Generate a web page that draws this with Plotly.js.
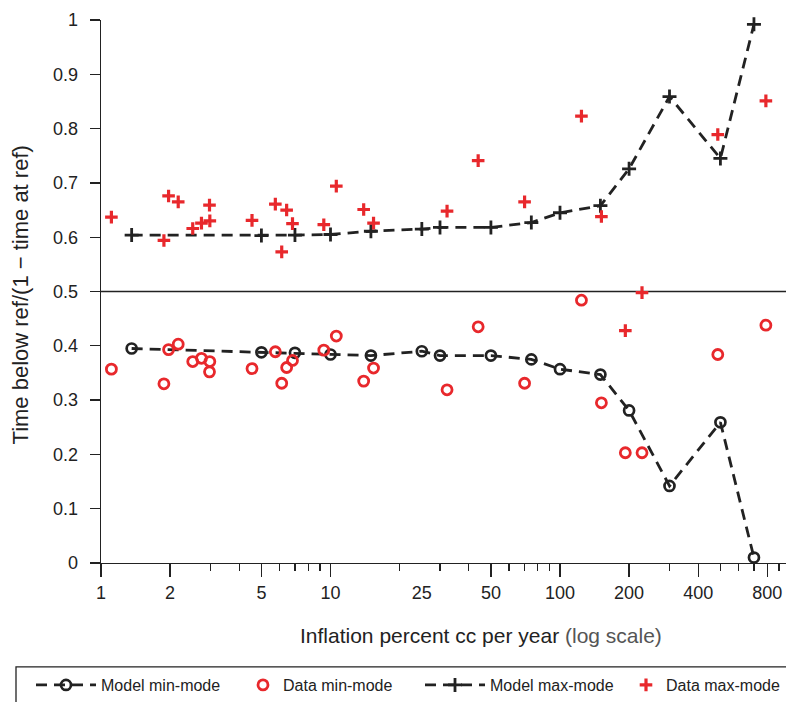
<!DOCTYPE html>
<html>
<head>
<meta charset="utf-8">
<script src="https://cdn.plot.ly/plotly-3.0.1.min.js"></script>
<style>
  html, body { margin: 0; padding: 0; background: #fff; overflow: hidden; }
  #chart { width: 786px; height: 702px; }
</style>
</head>
<body>
<div id="chart"></div>
<script>
// Inflation bands (percent, continuously compounded per year)
const modelInflation = [1.36, 5, 7, 10, 15, 25, 30, 50, 75, 100, 150, 200, 300, 500, 700];
const modelMinMode = [0.395, 0.388, 0.387, 0.384, 0.382, 0.390, 0.382, 0.382, 0.375, 0.357, 0.347, 0.281, 0.142, 0.259, 0.010];
const modelMaxMode = [0.604, 0.603, 0.604, 0.605, 0.611, 0.615, 0.618, 0.618, 0.627, 0.645, 0.658, 0.726, 0.859, 0.745, 0.992];

// Country observations
const dataInflation = [1.11, 1.88, 1.97, 2.17, 2.51, 2.74, 2.97, 2.98, 4.55, 5.75, 6.13, 6.44, 6.83,
                       9.35, 10.6, 13.95, 15.4, 32.2, 44, 70.1, 124, 151.5, 192.6, 227.7, 487, 789];
const dataMinMode = [0.357, 0.330, 0.393, 0.403, 0.371, 0.377, 0.352, 0.371, 0.358, 0.389, 0.331, 0.360, 0.373,
                     0.392, 0.418, 0.335, 0.359, 0.319, 0.435, 0.331, 0.484, 0.295, 0.203, 0.203, 0.384, 0.438];
const dataMaxMode = [0.637, 0.594, 0.676, 0.665, 0.616, 0.626, 0.659, 0.630, 0.631, 0.661, 0.573, 0.650, 0.625,
                     0.623, 0.694, 0.651, 0.626, 0.648, 0.741, 0.665, 0.823, 0.638, 0.428, 0.498, 0.789, 0.851];

// Axis ticks
const majorTicks = [1, 2, 5, 10, 50, 100, 200, 400, 800];
const majorLabels = ['1', '2', '5', '10', '50', '100', '200', '400', '800'];
const extraTicks = [25];
const extraLabels = ['25'];
const minorTicks = [3, 4, 6, 7, 8, 9, 20, 30, 40, 60, 70, 80, 90, 300, 500, 600, 700, 900];

const seriesNames = ['Model min-mode', 'Data min-mode', 'Model max-mode', 'Data max-mode'];

const INK = '#222222';
const RED = '#e8282c';
const FONT = '"Liberation Sans", Arial, Helvetica, sans-serif';

const traces = [
  {
    x: modelInflation, y: modelMinMode, name: seriesNames[0], legend: 'legend',
    mode: 'lines+markers', type: 'scatter', cliponaxis: false,
    line: { color: INK, width: 2.8, dash: '11px,7px' },
    marker: { symbol: 'circle-open', size: 10, color: INK, line: { width: 2.7, color: INK } }
  },
  {
    x: dataInflation, y: dataMinMode, name: seriesNames[1], legend: 'legend2',
    mode: 'markers', type: 'scatter', cliponaxis: false,
    marker: { symbol: 'circle-open', size: 10, color: RED, line: { width: 2.8, color: RED } }
  },
  {
    x: modelInflation, y: modelMaxMode, name: seriesNames[2], legend: 'legend3',
    mode: 'lines+markers', type: 'scatter', cliponaxis: false,
    line: { color: INK, width: 2.8, dash: '11px,7px' },
    marker: { symbol: 'cross-thin-open', size: 10, color: INK, line: { width: 2.8, color: INK } }
  },
  {
    x: dataInflation, y: dataMaxMode, name: seriesNames[3], legend: 'legend4',
    mode: 'markers', type: 'scatter', cliponaxis: false,
    marker: { symbol: 'cross-thin-open', size: 9, color: RED, line: { width: 3.2, color: RED } }
  },
  // carrier for the secondary label axis (no marks)
  {
    x: [], y: [], xaxis: 'x2', yaxis: 'y', type: 'scatter', mode: 'markers',
    showlegend: false, hoverinfo: 'skip'
  }
];

// plot area: left 101px, top 20px, width 685px, height 544px
const PL = 101, PW = 685, PT = 20, PH = 544;
const px2x = p => (p - PL) / PW;
const px2y = p => (PT + PH - p) / PH;

function legendAt(textLeft, itemwidth) {
  return {
    x: px2x(textLeft - itemwidth - 10), y: px2y(686), xanchor: 'left', yanchor: 'middle',
    orientation: 'h', bgcolor: 'rgba(0,0,0,0)', borderwidth: 0, itemwidth: itemwidth,
    font: { family: FONT, size: 16, color: INK }
  };
}

const logRange = [0, PW / 229.5];

const layout = {
  width: 786, height: 702,
  margin: { l: PL, r: 786 - PL - PW, t: PT, b: 702 - PT - PH, pad: 0 },
  paper_bgcolor: '#ffffff', plot_bgcolor: '#ffffff',
  font: { family: FONT, color: INK },
  xaxis: {
    type: 'log', range: logRange, anchor: 'y',
    showgrid: false, zeroline: false,
    showline: true, linecolor: INK, linewidth: 1.3,
    tickmode: 'array', tickvals: majorTicks, ticktext: majorLabels,
    ticks: 'outside', ticklen: 13, tickwidth: 1.3, tickcolor: INK,
    tickfont: { family: FONT, size: 18, color: INK },
    minor: { tickmode: 'array', tickvals: minorTicks, ticks: 'outside', ticklen: 7, tickwidth: 1.3, tickcolor: INK, showgrid: false }
  },
  xaxis2: {
    type: 'log', range: logRange, overlaying: 'x', anchor: 'y', side: 'bottom',
    showgrid: false, zeroline: false, showline: false,
    tickmode: 'array', tickvals: extraTicks, ticktext: extraLabels,
    ticks: 'outside', ticklen: 13, tickwidth: 1.3, tickcolor: 'rgba(0,0,0,0)',
    tickfont: { family: FONT, size: 18, color: INK }
  },
  yaxis: {
    range: [0, 1], showgrid: false, zeroline: false,
    showline: true, linecolor: INK, linewidth: 1.3,
    tickmode: 'linear', tick0: 0, dtick: 0.1,
    ticks: 'outside', ticklen: 10, tickwidth: 1.3, tickcolor: INK,
    ticklabelstandoff: 8,
    tickfont: { family: FONT, size: 18, color: INK }
  },
  showlegend: true,
  legend: legendAt(101, 60),
  legend2: legendAt(283, 30),
  legend3: legendAt(490, 60),
  legend4: legendAt(666, 30),
  shapes: [
    { type: 'line', xref: 'paper', yref: 'y', x0: 0, x1: 1, y0: 0.5, y1: 0.5,
      line: { color: INK, width: 1.3 }, layer: 'below' },
    { type: 'rect', xref: 'paper', yref: 'paper', x0: px2x(16), x1: px2x(800), y0: px2y(668), y1: px2y(720),
      line: { color: INK, width: 1.3 }, fillcolor: 'rgba(0,0,0,0)' }
  ],
  annotations: [
    { text: 'Inflation percent cc per year <span style="color:#555">(log scale)</span>',
      xref: 'paper', yref: 'paper', x: px2x(481), y: px2y(637), xanchor: 'center', yanchor: 'middle',
      showarrow: false, font: { family: FONT, size: 21, color: INK } },
    { text: 'Time below ref/(1 \u2212 time at ref)',
      xref: 'paper', yref: 'paper', x: px2x(20), y: px2y(296), xanchor: 'center', yanchor: 'middle',
      textangle: -90, showarrow: false, font: { family: FONT, size: 22, color: INK } }
  ]
};

Plotly.newPlot('chart', traces, layout, { displayModeBar: false, staticPlot: true });
</script>
</body>
</html>
